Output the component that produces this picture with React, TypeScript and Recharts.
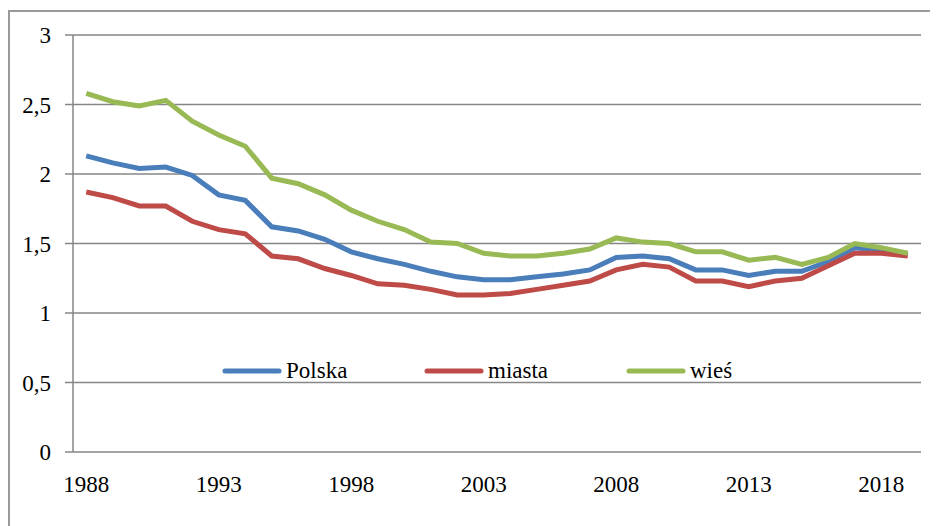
import React from "react";
import { LineChart, Line, XAxis, YAxis, CartesianGrid } from "recharts";

const years = [
  1988, 1989, 1990, 1991, 1992, 1993, 1994, 1995, 1996, 1997, 1998, 1999, 2000, 2001, 2002, 2003,
  2004, 2005, 2006, 2007, 2008, 2009, 2010, 2011, 2012, 2013, 2014, 2015, 2016, 2017, 2018, 2019,
];

const polska = [
  2.13, 2.08, 2.04, 2.05, 1.99, 1.85, 1.81, 1.62, 1.59, 1.53, 1.44, 1.39, 1.35, 1.30, 1.26, 1.24,
  1.24, 1.26, 1.28, 1.31, 1.40, 1.41, 1.39, 1.31, 1.31, 1.27, 1.30, 1.30, 1.37, 1.47, 1.45, 1.42,
];

const miasta = [
  1.87, 1.83, 1.77, 1.77, 1.66, 1.60, 1.57, 1.41, 1.39, 1.32, 1.27, 1.21, 1.20, 1.17, 1.13, 1.13,
  1.14, 1.17, 1.20, 1.23, 1.31, 1.35, 1.33, 1.23, 1.23, 1.19, 1.23, 1.25, 1.34, 1.43, 1.43, 1.41,
];

const wies = [
  2.58, 2.52, 2.49, 2.53, 2.38, 2.28, 2.20, 1.97, 1.93, 1.85, 1.74, 1.66, 1.60, 1.51, 1.50, 1.43,
  1.41, 1.41, 1.43, 1.46, 1.54, 1.51, 1.50, 1.44, 1.44, 1.38, 1.40, 1.35, 1.40, 1.50, 1.47, 1.43,
];

const yearLabels = [1988, 1993, 1998, 2003, 2008, 2013, 2018];
const yTicks = [0, 0.5, 1, 1.5, 2, 2.5, 3];

const series = [
  { key: "polska", name: "Polska", color: "#4A7EBB" },
  { key: "miasta", name: "miasta", color: "#BE4B48" },
  { key: "wies", name: "wieś", color: "#98B954" },
];

const data = years.map((year, i) => ({
  year,
  polska: polska[i],
  miasta: miasta[i],
  wies: wies[i],
}));

// Excel-style category axis: tick marks sit between the years
const bounds = [...years.map((y) => y - 0.5), years[years.length - 1] + 0.5];
const domain = [bounds[0], bounds[bounds.length - 1]];

const FONT = "Liberation Serif, DejaVu Serif, serif";
const GRID = "#868686";

export default function App() {
  return (
    <div style={{ position: "relative", width: 930, height: 518, fontFamily: FONT }}>
      <div
        style={{
          position: "absolute",
          left: 0,
          top: 2,
          width: 940,
          height: 530,
          borderLeft: `2px solid #9a9a9a`,
          borderTop: `2px solid #9a9a9a`,
          boxSizing: "border-box",
        }}
      />
      <div style={{ position: "absolute", left: 0, top: 0 }}>
        <LineChart
          width={930}
          height={518}
          data={data}
          margin={{ top: 27, right: 17, left: 0, bottom: 14 }}
          style={{ fontFamily: FONT }}
        >
          <CartesianGrid
            xAxisId="years"
            vertical={false}
            stroke={GRID}
            strokeWidth={1.5}
          />
          <XAxis
            xAxisId="bounds"
            type="number"
            dataKey="year"
            domain={domain}
            ticks={bounds}
            allowDecimals
            tickFormatter={() => ""}
            tickSize={7}
            height={0}
            axisLine={{ stroke: GRID, strokeWidth: 1.5 }}
            tickLine={{ stroke: GRID, strokeWidth: 1.5 }}
          />
          <XAxis
            xAxisId="years"
            type="number"
            dataKey="year"
            domain={domain}
            ticks={yearLabels}
            axisLine={false}
            tickLine={false}
            tickSize={0}
            tickMargin={24}
            height={60}
            tick={{ fontSize: 23, fill: "#000", fontFamily: FONT }}
          />
          <YAxis
            domain={[0, 3]}
            ticks={yTicks}
            width={65}
            tickSize={8}
            tickMargin={14}
            tickFormatter={(v) => String(v).replace(".", ",")}
            axisLine={{ stroke: GRID, strokeWidth: 1.5 }}
            tickLine={{ stroke: GRID, strokeWidth: 1.5 }}
            tick={{ fontSize: 23, fill: "#000", fontFamily: FONT }}
          />
          {series.map((s) => (
            <Line
              key={s.key}
              xAxisId="years"
              type="linear"
              dataKey={s.key}
              name={s.name}
              stroke={s.color}
              strokeWidth={5}
              dot={false}
              activeDot={false}
              isAnimationActive={false}
            />
          ))}
        </LineChart>
      </div>
      {/* legend sits inside the plot area, as in the original */}
      <div
        style={{
          position: "absolute",
          left: 214,
          top: 350,
          display: "flex",
          alignItems: "center",
          fontSize: 23,
          color: "#000",
          fontFamily: FONT,
        }}
      >
        {series.map((s) => (
          <div key={s.key} style={{ display: "flex", alignItems: "center", width: 202 }}>
            <svg width={60} height={8} style={{ marginRight: 4 }}>
              <line x1={3} y1={4} x2={57} y2={4} stroke={s.color} strokeWidth={5} strokeLinecap="round" />
            </svg>
            <span>{s.name}</span>
          </div>
        ))}
      </div>
    </div>
  );
}
